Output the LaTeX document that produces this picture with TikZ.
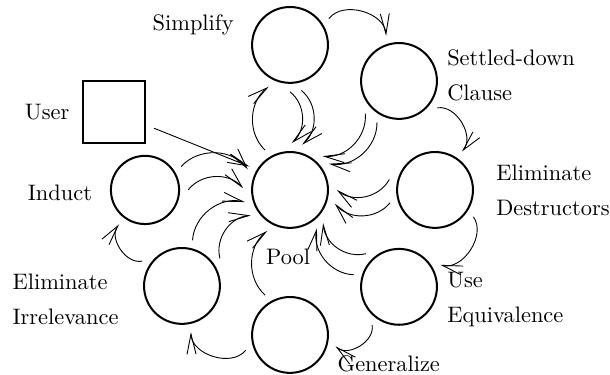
\documentclass[tikz,border=0pt]{standalone}
\usepackage{tikz}
\usetikzlibrary{arrows.meta}

\begin{document}
\begin{tikzpicture}[>={Straight Barb[length=9pt,width=4pt]}]

  \tikzstyle{ruleNode} = [draw, circle, line width=0.9pt, minimum size=1.19cm, inner sep=0pt, outer sep=4pt];
  \tikzstyle{smallRuleNode} = [ruleNode, minimum size=1.07cm];
  \tikzstyle{userNode} = [draw, rectangle, line width=0.9pt, minimum size=0.97cm, inner sep=0pt, outer sep=4pt];
  \tikzstyle{labelNode} = [inner sep=0pt, align=left];

  \tikzstyle{userEdge} = [->];
  \tikzstyle{cycleEdge} = [->, bend left=70];
  \tikzstyle{poolEdge} = [->, bend left=50];

  \useasboundingbox (-4.55,-2.90) rectangle (5.02,2.98);

  % the pool and the rules round it
  \node[ruleNode] (pool) at (0,0) {};
  \node[ruleNode] (simplify) at (0,2.275) {};
  \node[ruleNode] (settled) at (1.71,1.71) {};
  \node[ruleNode] (destructors) at (2.275,0) {};
  \node[ruleNode] (equivalence) at (1.71,-1.52) {};
  \node[ruleNode] (generalize) at (0,-2.275) {};
  \node[ruleNode] (irrelevance) at (-1.695,-1.506) {};
  \node[smallRuleNode] (induct) at (-2.275,0) {};
  \node[userNode] (user) at (-2.76,1.22) {};

  % labels
  \node[labelNode] (poolLbl) at (-0.03,-1.05) {Pool};
  \node[labelNode] (simplifyLbl) at (-1.52,2.59) {Simplify};
  \node[labelNode, anchor=west] (settledLbl) at (2.46,1.80) {Settled-down\\[3.6pt]Clause};
  \node[labelNode, anchor=west] (destructorsLbl) at (3.23,0) {Eliminate\\[3.6pt]Destructors};
  \node[labelNode, anchor=west] (equivalenceLbl) at (2.46,-1.72) {Use\\[3.6pt]Equivalence};
  \node[labelNode] (generalizeLbl) at (1.55,-2.73) {Generalize};
  \node[labelNode, anchor=west] (irrelevanceLbl) at (-4.36,-1.72) {Eliminate\\[3.6pt]Irrelevance};
  \node[labelNode] (inductLbl) at (-3.61,-0.04) {Induct};
  \node[labelNode] (userLbl) at (-3.81,1.22) {User};

  % outer cycle
  \draw[cycleEdge] (simplify.34) to (settled.106);
  \draw[cycleEdge] (settled.-35) to (destructors.55);
  \draw[cycleEdge] (destructors.-35) to (equivalence.28);
  \draw[cycleEdge] (equivalence.-125) to (generalize.-14);
  \draw[cycleEdge] (generalize.199) to (irrelevance.-79);
  \draw[cycleEdge] (irrelevance.148) to (induct.233);

  % into and out of the pool
  \draw[userEdge] (user) -- (pool.150);
  \draw[poolEdge] (induct.33) to (pool.154);
  \draw[poolEdge] (induct.0) to (pool.178);
  \draw[poolEdge] (irrelevance.77) to (pool.195);
  \draw[poolEdge] (irrelevance.36) to (pool.213);
  \draw[poolEdge] (generalize.122) to (pool.241);
  \draw[poolEdge] (equivalence.165) to (pool.-55);
  \draw[poolEdge] (equivalence.135) to (pool.-45);
  \draw[poolEdge] (destructors.167) to (pool.0);
  \draw[poolEdge] (destructors.196) to (pool.-17);
  \draw[poolEdge] (settled.224) to (pool.46);
  \draw[poolEdge] (settled.242) to (pool.34);
  \draw[poolEdge] (simplify.270) to (pool.88);
  \draw[poolEdge] (simplify.284) to (pool.75);
  \draw[poolEdge] (pool.122) to (simplify.243);

\end{tikzpicture}
\end{document}
